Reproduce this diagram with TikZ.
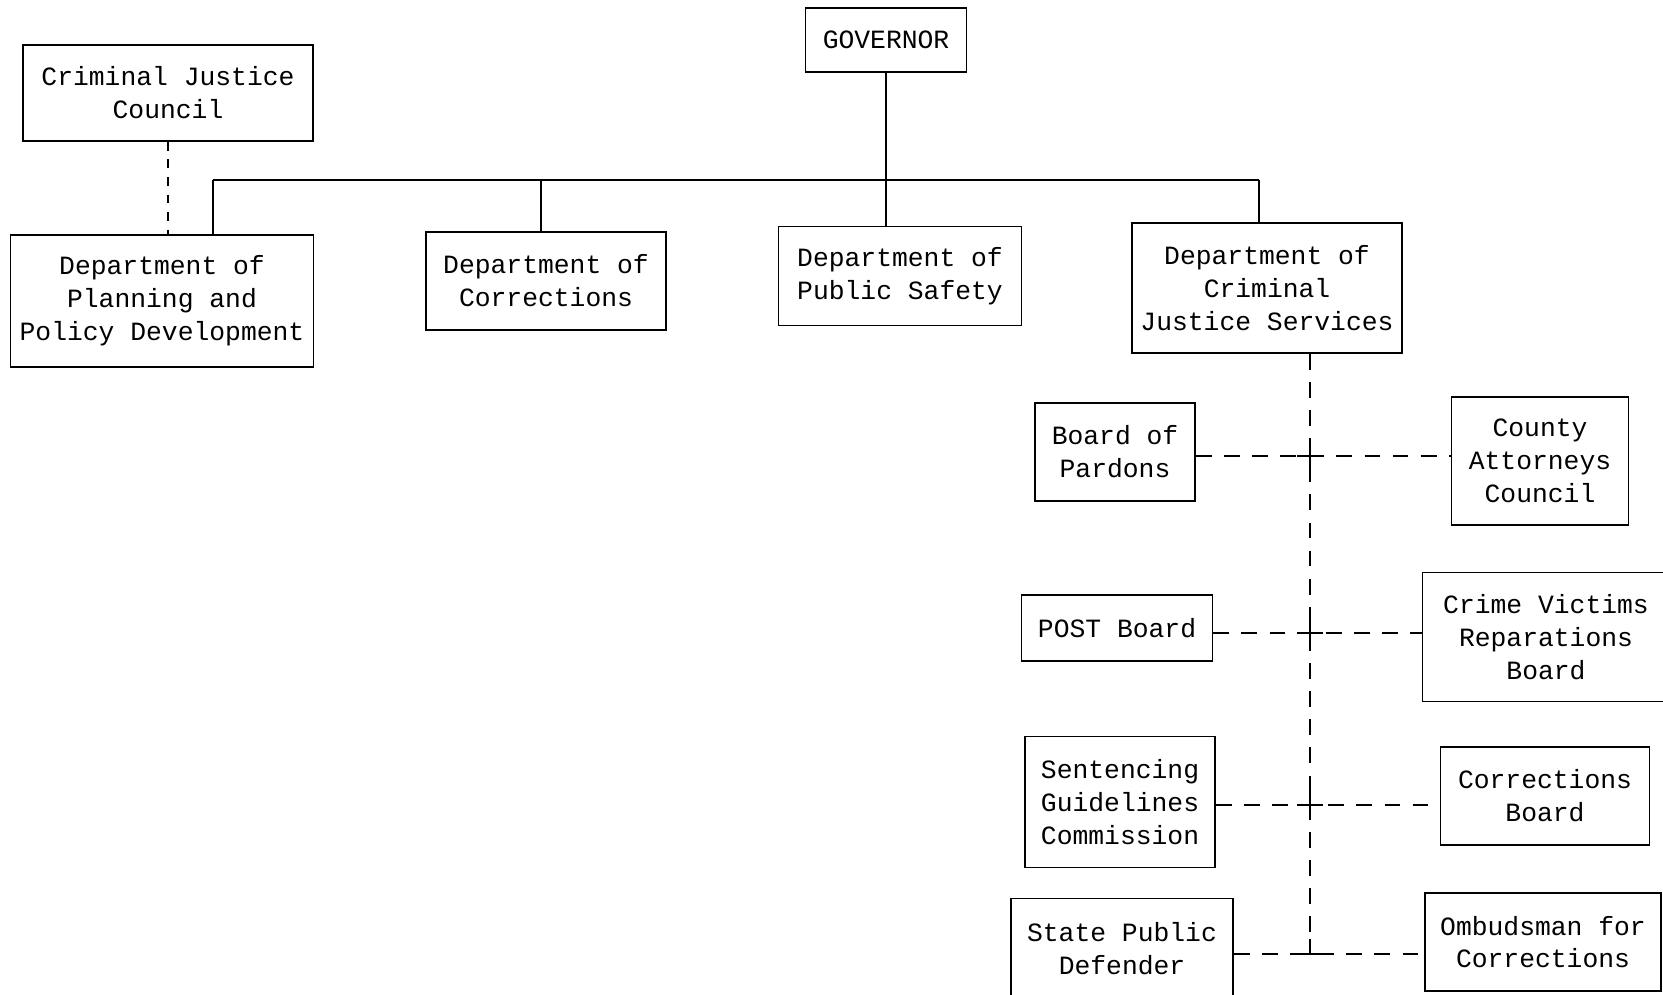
\documentclass[tikz,border=0pt]{standalone}
\usepackage{fontspec}
\setmonofont{Liberation Mono}
\usetikzlibrary{positioning}
\tikzset{
	unit/.style={
		rectangle,
		draw,
		line width=1pt,
		inner sep=0pt,
		align=center,
		font=\ttfamily\fontsize{15}{18.7}\selectfont
	}
}

\begin{document}
\begin{tikzpicture}[x=0.02cm,y=-0.02cm]
			\tikzstyle{link}=[line width=1pt]
			\tikzstyle{dashlink}=[line width=1pt, dash pattern=on 9pt off 7pt]
			\tikzstyle{shortdash}=[line width=1pt, dash pattern=on 5pt off 5pt]
			\useasboundingbox (0,0) rectangle (1663,994);

			\node[unit, minimum width=3.22cm, minimum height=1.28cm] (gov) at (886,40) {GOVERNOR};
			\node[unit, minimum width=5.8cm, minimum height=1.92cm] (cjc) at (168,93) {Criminal Justice\\Council};

			\node[unit, minimum width=6.06cm, minimum height=2.64cm] (plan) at (162,301) {Department of\\Planning and\\Policy Development};
			\node[unit, minimum width=4.8cm, minimum height=1.96cm] (corr) at (546,281) {Department of\\Corrections};
			\node[unit, minimum width=4.86cm, minimum height=1.98cm] (safety) at (900,276) {Department of\\Public Safety};
			\node[unit, minimum width=5.4cm, minimum height=2.6cm] (cjs) at (1267,288) {Department of\\Criminal\\Justice Services};

			\node[unit, minimum width=3.2cm, minimum height=1.96cm] (pardons) at (1115,452) {Board of\\Pardons};
			\node[unit, minimum width=3.54cm, minimum height=2.56cm] (county) at (1540,461) {County\\Attorneys\\Council};
			\node[unit, minimum width=3.82cm, minimum height=1.32cm] (post) at (1117,628) {POST Board};
			\node[unit, minimum width=4.94cm, minimum height=2.58cm] (victims) at (1546,637) {Crime Victims\\Reparations\\Board};
			\node[unit, minimum width=3.8cm, minimum height=2.62cm] (sentencing) at (1120,802) {Sentencing\\Guidelines\\Commission};
			\node[unit, minimum width=4.18cm, minimum height=1.96cm] (corrboard) at (1545,796) {Corrections\\Board};
			\node[unit, minimum width=4.44cm, minimum height=2.02cm] (defender) at (1122,949) {State Public\\Defender};
			\node[unit, minimum width=4.72cm, minimum height=1.96cm] (ombudsman) at (1543,942) {Ombudsman for\\Corrections};

			\coordinate (busleft) at (213,180);
			\coordinate (busmid) at (541,180);
			\coordinate (busright) at (1259,180);
			\coordinate (spine) at (1310,0);

			\draw[link] (gov.south) -- (gov.south |- safety.north);
			\draw[link] (busleft) -- (busright);
			\draw[link] (busleft) -- (busleft |- plan.north);
			\draw[link] (busmid) -- (busmid |- corr.north);
			\draw[link] (busright) -- (busright |- cjs.north);
			\draw[shortdash] (cjc.south) -- (cjc.south |- plan.north);

			\coordinate (j1) at (1310,456);
			\coordinate (j2) at (1310,633);
			\coordinate (j3) at (1310,805);
			\coordinate (j4) at (1310,954);

			\draw[dashlink] (spine |- cjs.south) -- (j4);
			\draw[dashlink] (pardons.east |- j1) -- (county.west |- j1);
			\draw[dashlink] (post.east |- j2) -- (victims.west |- j2);
			\draw[dashlink] (sentencing.east |- j3) -- (corrboard.west |- j3);
			\draw[dashlink] (defender.east |- j4) -- (ombudsman.west |- j4);

			\foreach \j in {j1,j2,j3}
				\draw[link] ([xshift=-0.26cm]\j) -- ([xshift=0.26cm]\j) ([yshift=-0.3cm]\j) -- ([yshift=0.3cm]\j);
			\draw[link] ([xshift=-0.26cm]j4) -- ([xshift=0.26cm]j4) (j4) -- ([yshift=0.3cm]j4);

\end{tikzpicture}
\end{document}
